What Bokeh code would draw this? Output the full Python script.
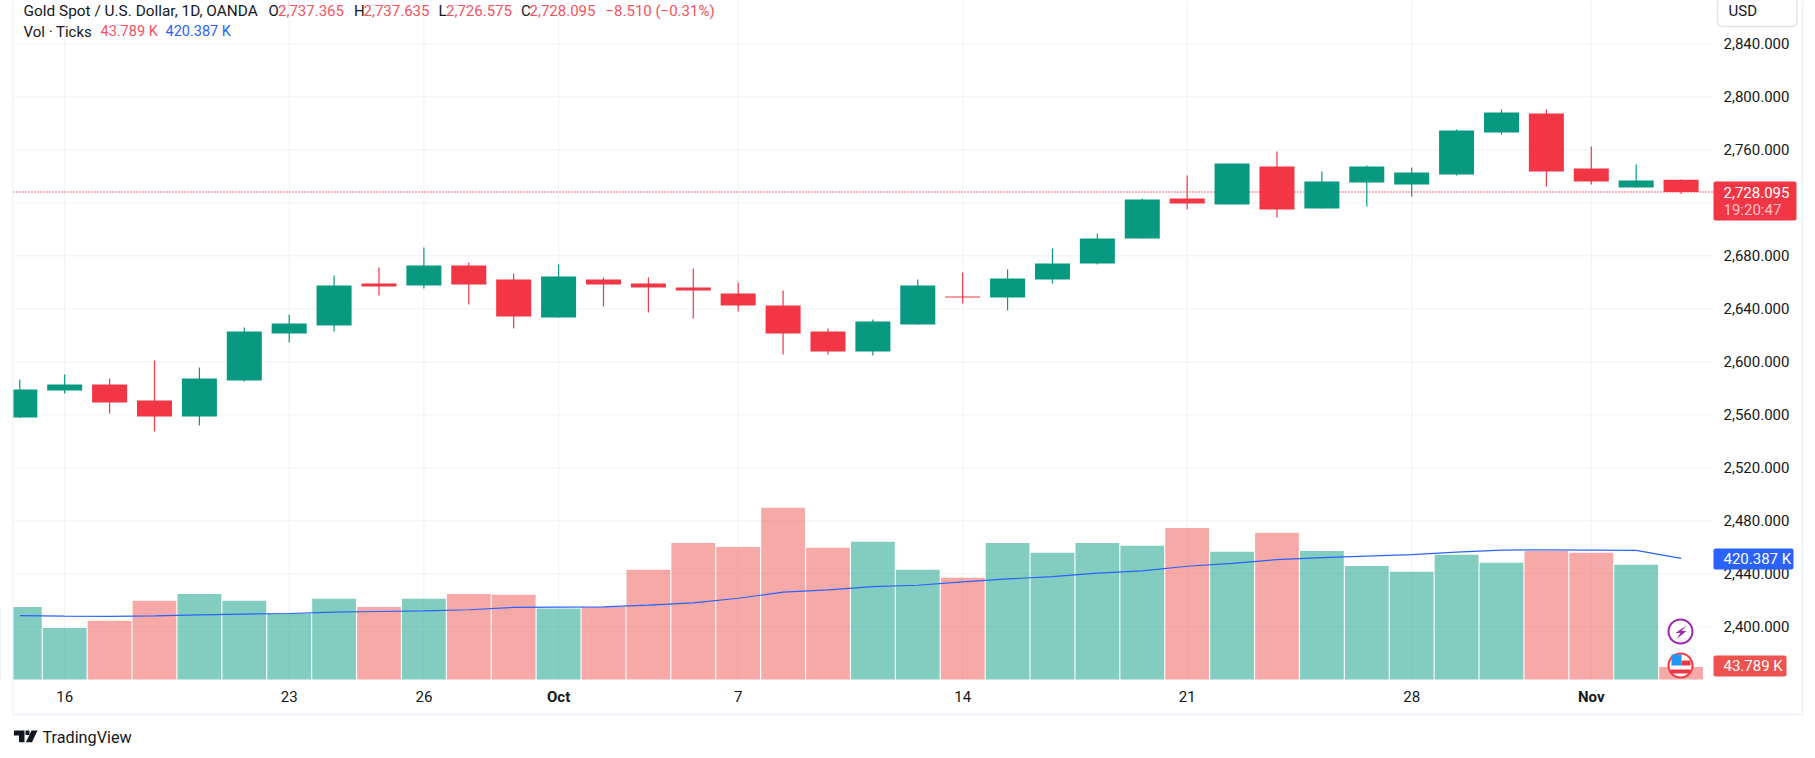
from bokeh.plotting import figure
from bokeh.models import (Range1d, LinearAxis, FixedTicker, Label, BoxAnnotation, PolyAnnotation)
from bokeh.embed import file_html
from bokeh.resources import INLINE

# ---------- data ----------
opens  = [2558.0,2578.3,2582.9,2570.8,2558.7,2585.9,2621.4,2627.4,2659.1,2657.6,
          2672.7,2662.1,2633.4,2662.1,2659.1,2656.1,2651.6,2642.5,2622.9,2607.8,
          2628.2,2649.3,2648.5,2662.1,2674.2,2693.1,2723.2,2718.7,2747.4,2715.7,
          2735.3,2733.8,2741.4,2773.0,2787.4,2745.9,2731.5,2737.365]
highs  = [2586.6,2590.4,2587.4,2601.0,2595.7,2625.9,2635.7,2665.1,2671.2,2686.3,
          2674.95,2666.6,2673.4,2663.6,2663.6,2670.4,2659.9,2653.8,2625.1,2631.9,
          2662.1,2667.4,2669.7,2685.5,2696.8,2723.2,2740.6,2749.7,2758.7,2743.6,
          2748.1,2746.6,2775.3,2790.4,2790.4,2762.5,2748.9,2737.635]
lows   = [2557.5,2576.1,2561.0,2547.4,2552.0,2585.1,2614.6,2622.9,2650.1,2655.3,
          2643.25,2625.1,2633.4,2641.7,2637.2,2632.7,2638.0,2605.5,2605.5,2604.8,
          2628.2,2644.0,2638.7,2659.1,2673.4,2693.1,2715.0,2718.7,2708.9,2715.7,
          2717.2,2724.7,2740.6,2771.5,2732.3,2733.8,2731.5,2726.575]
closes = [2579.1,2582.9,2569.3,2558.7,2587.4,2622.9,2628.9,2657.6,2656.8,2672.7,
          2658.3,2634.2,2664.4,2658.3,2656.1,2653.8,2642.5,2621.4,2607.8,2630.4,
          2657.6,2648.5,2662.9,2674.2,2693.1,2722.5,2719.5,2749.7,2714.9,2736.1,
          2747.4,2742.9,2774.6,2788.1,2743.6,2736.1,2736.8,2728.095]
volumes = [252,179,204,273,297,273,229,280,252,280,297,294,246,252,381,474,460,596,457,478,
           381,353,474,440,474,464,526,443,509,446,394,374,433,405,446,440,398,43.789]
vol_ma = [222,220,219,221,224,227,229,234,236,238,242,250,251,252,258,266,282,303,311,322,
          327,339,349,357,369,377,393,403,416,423,428,433,442,449,450,449,448,420.387]
price_ticks = [2400,2440,2480,2520,2560,2600,2640,2680,2720,2760,2800,2840]
day_ticks = [1,6,9,16,21,26,31]
day_labels = ["16","23","26","7","14","21","28"]
month_ticks = [12,35]
month_labels = ["Oct","Nov"]

GREEN, RED, VRED, BLUE, INK = "#089981", "#F23645", "#EF5350", "#2962FF", "#131722"
BORDER = "#F0F3FA"
FONT = "Roboto"
W, H = 1815, 758
P_L, P_R, P_B = 13, 1712, 679   # chart pane edges in pixels

# ranges: the frame is the whole canvas
X0, X1 = -0.4298, 39.994
Y0, Y1 = 2300.6, 2872.68
idx = list(range(len(closes)))
p = figure(width=W, height=H, output_backend="svg", toolbar_location=None,
           x_range=Range1d(X0, X1), y_range=Range1d(Y0, Y1),
           x_axis_location=None, y_axis_location=None,
           min_border_left=0, min_border_right=0, min_border_top=0, min_border_bottom=0,
           background_fill_color="white", border_fill_color="white", outline_line_color=None)
p.grid.visible = False
p.extra_y_ranges = {"vol": Range1d(-274.1, 2356.1)}

def dx(x): return X0 + x * (X1 - X0) / W
def dy(y): return Y1 - y * (Y1 - Y0) / H

# axes
yax = LinearAxis(fixed_location=dx(P_R), ticker=FixedTicker(ticks=price_ticks),
                 major_label_overrides={t: f"{t:,.3f}" for t in price_ticks}, major_label_standoff=5)
xax = LinearAxis(fixed_location=dy(P_B), ticker=FixedTicker(ticks=day_ticks + month_ticks),
                 major_label_overrides={**{t: l for t, l in zip(day_ticks, day_labels)},
                                        **{t: "" for t in month_ticks}}, major_label_standoff=5)
for ax in (xax, yax):
    ax.axis_line_color = None
    ax.major_tick_line_color = None
    ax.minor_tick_line_color = None
    ax.major_label_text_font = FONT
    ax.major_label_text_font_size = "15px"
    ax.major_label_text_color = INK
p.add_layout(yax, "right")
p.add_layout(xax, "below")

# grid
GRID = "#F1F2F5"
gx = day_ticks + month_ticks
p.segment(x0=gx, x1=gx, y0=[dy(0)] * len(gx), y1=[dy(P_B)] * len(gx), line_color=GRID, line_width=1)
p.segment(x0=[dx(P_L)] * len(price_ticks), x1=[dx(P_R)] * len(price_ticks), y0=price_ticks, y1=price_ticks,
          line_color=GRID, line_width=1)

# volume
vup = [i for i in idx if closes[i] >= opens[i]]
vdn = [i for i in idx if closes[i] < opens[i]]
p.vbar(x=vup, top=[volumes[i] for i in vup], bottom=0, width=0.975, y_range_name="vol",
       fill_color=GREEN, fill_alpha=0.5, line_color=None)
p.vbar(x=vdn, top=[volumes[i] for i in vdn], bottom=0, width=0.975, y_range_name="vol",
       fill_color=VRED, fill_alpha=0.5, line_color=None)
p.line(idx, vol_ma, y_range_name="vol", line_color=BLUE, line_width=1.2)

# last price line
p.line([dx(P_L), dx(P_R)], [closes[-1], closes[-1]], line_color=RED, line_width=1.5, line_dash="1 2")

# candles
for ids, col in ((vup, GREEN), (vdn, RED)):
    p.segment(x0=ids, x1=ids, y0=[lows[i] for i in ids], y1=[highs[i] for i in ids], line_color=col, line_width=1.2)
    p.vbar(x=ids, top=[max(opens[i], closes[i]) for i in ids], bottom=[min(opens[i], closes[i]) for i in ids],
           width=0.78, fill_color=col, line_color=None)

# event icons
p.scatter([dx(1680)], [dy(631)], size=24, fill_color="white", line_color="#9C27B0", line_width=2)
p.patch([dx(v) for v in (1686, 1675, 1680, 1676, 1686, 1681)], [dy(v) for v in (625, 632.5, 632.5, 638.5, 630.5, 630.5)],
        fill_color="#9C27B0", line_color=None)
p.scatter([dx(1680)], [dy(665)], size=24, fill_color="white", line_color=RED, line_width=2)
p.quad(left=dx(1671), right=dx(1681), top=dy(654), bottom=dy(665), fill_color="#2196F3", line_color=None)
p.quad(left=dx(1681), right=dx(1690), top=dy(660), bottom=dy(665), fill_color=RED, line_color=None)
p.quad(left=dx(1670), right=dx(1690), top=dy(669), bottom=dy(673), fill_color=RED, line_color=None)

def label(x, y, text, color=INK, size=15, style="normal", align="left", alpha=1.0):
    p.add_layout(Label(x=x, y=y, x_units="canvas", y_units="canvas", text=text, text_color=color,
                       text_font=FONT, text_font_size=f"{size}px", text_font_style=style,
                       text_align=align, text_baseline="middle", text_alpha=alpha))

def box(l, t, r, b, fill, line=None, radius=0):
    p.add_layout(BoxAnnotation(left=l, right=r, top=t, bottom=b, left_units="canvas", right_units="canvas",
                               top_units="canvas", bottom_units="canvas", fill_color=fill, fill_alpha=1,
                               line_color=line if line else fill, line_alpha=1 if line else 0, line_width=1.5,
                               border_radius=radius))

# pane border, with the area to the left of the pane covered
box(0, 0, 11.5, H, "white")
box(11.5, 0, 13, 715, BORDER)
box(11.5, 713, 1803, 715, BORDER)
box(1801, 0, 1803, 715, BORDER)

# month labels (bold)
for t, l in zip(month_ticks, month_labels):
    p.add_layout(Label(x=t, y=696.7, x_units="data", y_units="canvas", text=l, text_color=INK, text_font=FONT,
                       text_font_size="15px", text_font_style="bold", text_align="center", text_baseline="middle"))

# header
label(23, 10, "Gold Spot / U.S. Dollar, 1D, OANDA", size=15.4)
for x, t in ((268, "O"), (353.5, "H"), (438, "L"), (520.5, "C")):
    label(x, 10, t)
for x, t in ((277.5, "2,737.365"), (363, "2,737.635"), (445.5, "2,726.575"), (529, "2,728.095"), (605, "−8.510 (−0.31%)")):
    label(x, 10, t, color="#F7525F")
label(23, 31, "Vol · Ticks")
label(100, 31, "43.789 K", color="#F7525F", size=14.5)
label(165, 31, "420.387 K", color=BLUE, size=14.5)

# right side tags
box(1717, -6, 1796.5, 26, "white", line="#E0E3EB", radius=5)
label(1728, 10.5, "USD")
box(1713, 181, 1796, 220, RED, radius=2)
label(1723, 191.5, "2,728.095", color="white")
label(1723, 209, "19:20:47", color="white", alpha=0.7)
box(1713, 548, 1793, 569, BLUE, radius=2)
label(1723, 558.5, "420.387 K", color="white")
box(1713, 655, 1786, 676, VRED, radius=2)
label(1723, 665.5, "43.789 K", color="white")

# logo
label(42, 737, "TradingView", size=16.2)
for xs, ys in (([13.4, 24, 24, 18.5, 18.5, 13.4], [730, 730, 741.7, 741.7, 735, 735]),
               ([31, 37, 31.5, 25.5], [730, 730, 741.7, 741.7]),
               ([25, 29, 29, 25], [730, 730, 734.5, 734.5])):
    p.add_layout(PolyAnnotation(xs=xs, ys=ys, xs_units="canvas", ys_units="canvas",
                                fill_color=INK, fill_alpha=1, line_color=None))

open("out.html", "w").write(file_html(p, INLINE))
